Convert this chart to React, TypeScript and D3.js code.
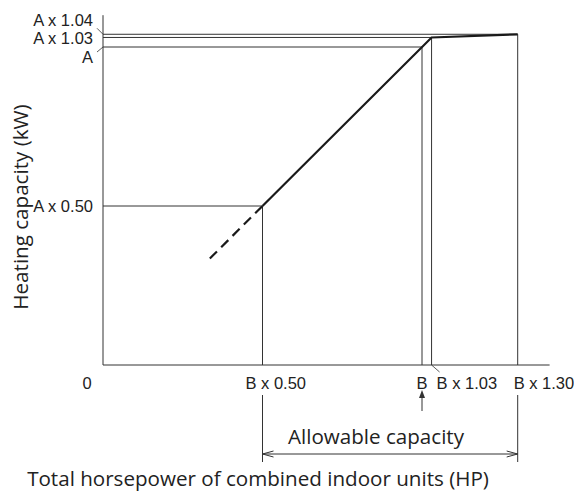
import React from "react";
import * as d3 from "d3";

const xTickValues = [0.5, 1, 1.03, 1.3];
const xTickLabels = ["B x 0.50", "B", "B x 1.03", "B x 1.30"];
const yTickValues = [0.5, 1, 1.03, 1.04];
const yTickLabels = ["A x 0.50", "A", "A x 1.03", "A x 1.04"];
const curveX = [0.5, 1.03, 1.3];
const curveY = [0.5, 1.03, 1.04];
const dashX = [0.335, 0.5];
const dashY = [0.335, 0.5];
const allowableRange = [0.5, 1.3];
const xAxisMax = 1.4;
const yAxisMax = 1.1;

const W = 574;
const H = 491;

export default function App() {
  const x = d3.scaleLinear().domain([0, 1]).range([103, 422]);
  const y = d3.scaleLinear().domain([0, 1]).range([365, 47]);
  const line = d3
    .line<[number, number]>()
    .x((d) => x(d[0]))
    .y((d) => y(d[1]));
  const curvePts = curveX.map((v, i) => [v, curveY[i]] as [number, number]);
  const dashPts = dashX.map((v, i) => [v, dashY[i]] as [number, number]);

  const labelFont = "'Liberation Sans', Arial, sans-serif";
  const titleFont = "'Open Sans', 'Noto Sans', sans-serif";
  const stroke = "#333";
  const labelSize = 16.5;
  const titleSize = 20.6;

  const guideX = [0.5, 1, 1.03, 1.3];

  const xAnchor = ["start", "middle", "start", "start"];
  const xDx = [-17, 0, 5, -4];
  const yDy = [6, 15.5, 6.5, -8.5];

  const arrowY = 454;
  const xa = x(allowableRange[0]);
  const xb = x(allowableRange[1]);

  return (
    <svg width={W} height={H} style={{ position: "absolute", left: 0, top: 0 }}>
      <rect width={W} height={H} fill="#fff" />
      <line x1={x(0)} y1={y(0)} x2={x(xAxisMax)} y2={y(0)} stroke={stroke} strokeWidth={1} />
      <line x1={x(0)} y1={y(0)} x2={x(0)} y2={y(yAxisMax)} stroke={stroke} strokeWidth={1} />
      {yTickValues.map((v, i) => (
        <g key={"g" + i}>
          <line x1={x(0)} y1={y(v)} x2={x(guideX[i])} y2={y(v)} stroke={stroke} strokeWidth={1} />
          <line x1={x(guideX[i])} y1={y(0)} x2={x(guideX[i])} y2={y(v)} stroke={stroke} strokeWidth={1} />
        </g>
      ))}
      <path d={line(curvePts) || ""} fill="none" stroke="#1a1a1a" strokeWidth={2.2} />
      <path d={line(dashPts) || ""} fill="none" stroke="#1a1a1a" strokeWidth={2.2} strokeDasharray="10,6" />
      <line x1={x(0) - 6} y1={y(1.04) - 6} x2={x(0)} y2={y(1.04)} stroke={stroke} strokeWidth={0.8} />
      <line x1={x(0) - 6} y1={y(1) + 5} x2={x(0)} y2={y(1)} stroke={stroke} strokeWidth={0.8} />
      <line x1={x(1.03)} y1={y(0)} x2={x(1.03) + 8} y2={y(0) + 7} stroke={stroke} strokeWidth={0.8} />
      {yTickValues.map((v, i) => (
        <text
          key={"yt" + i}
          x={93}
          y={y(v) + yDy[i]}
          textAnchor="end"
          fontFamily={labelFont}
          fontSize={labelSize}
          fill="#222"
        >
          {yTickLabels[i]}
        </text>
      ))}
      <text x={87} y={388.5} textAnchor="middle" fontFamily={labelFont} fontSize={labelSize} fill="#222">
        0
      </text>
      {xTickValues.map((v, i) => (
        <text
          key={"xt" + i}
          x={x(v) + xDx[i]}
          y={388.5}
          textAnchor={xAnchor[i] as any}
          fontFamily={labelFont}
          fontSize={labelSize}
          fill="#222"
        >
          {xTickLabels[i]}
        </text>
      ))}
      <line x1={x(1)} y1={411} x2={x(1)} y2={396} stroke={stroke} strokeWidth={1} />
      <path d={`M${x(1)},390 L${x(1) - 3},398 L${x(1) + 3},398 Z`} fill={stroke} />
      <line x1={xa} y1={395} x2={xa} y2={462} stroke={stroke} strokeWidth={1} />
      <line x1={xb} y1={395} x2={xb} y2={462} stroke={stroke} strokeWidth={1} />
      <line x1={xa} y1={arrowY} x2={xb} y2={arrowY} stroke={stroke} strokeWidth={1} />
      <path d={`M${xa + 11},${arrowY - 3} L${xa},${arrowY} L${xa + 11},${arrowY + 3}`} fill="none" stroke={stroke} strokeWidth={1} />
      <path d={`M${xb - 11},${arrowY - 3} L${xb},${arrowY} L${xb - 11},${arrowY + 3}`} fill="none" stroke={stroke} strokeWidth={1} />
      <text x={376} y={444} textAnchor="middle" fontFamily={titleFont} fontSize={titleSize} fill="#222">
        Allowable capacity
      </text>
      <text x={258} y={486} textAnchor="middle" fontFamily={titleFont} fontSize={titleSize} fill="#222">
        Total horsepower of combined indoor units (HP)
      </text>
      <text
        transform="translate(28,207) rotate(-90)"
        textAnchor="middle"
        fontFamily={titleFont}
        fontSize={titleSize}
        fill="#222"
      >
        Heating capacity (kW)
      </text>
    </svg>
  );
}
